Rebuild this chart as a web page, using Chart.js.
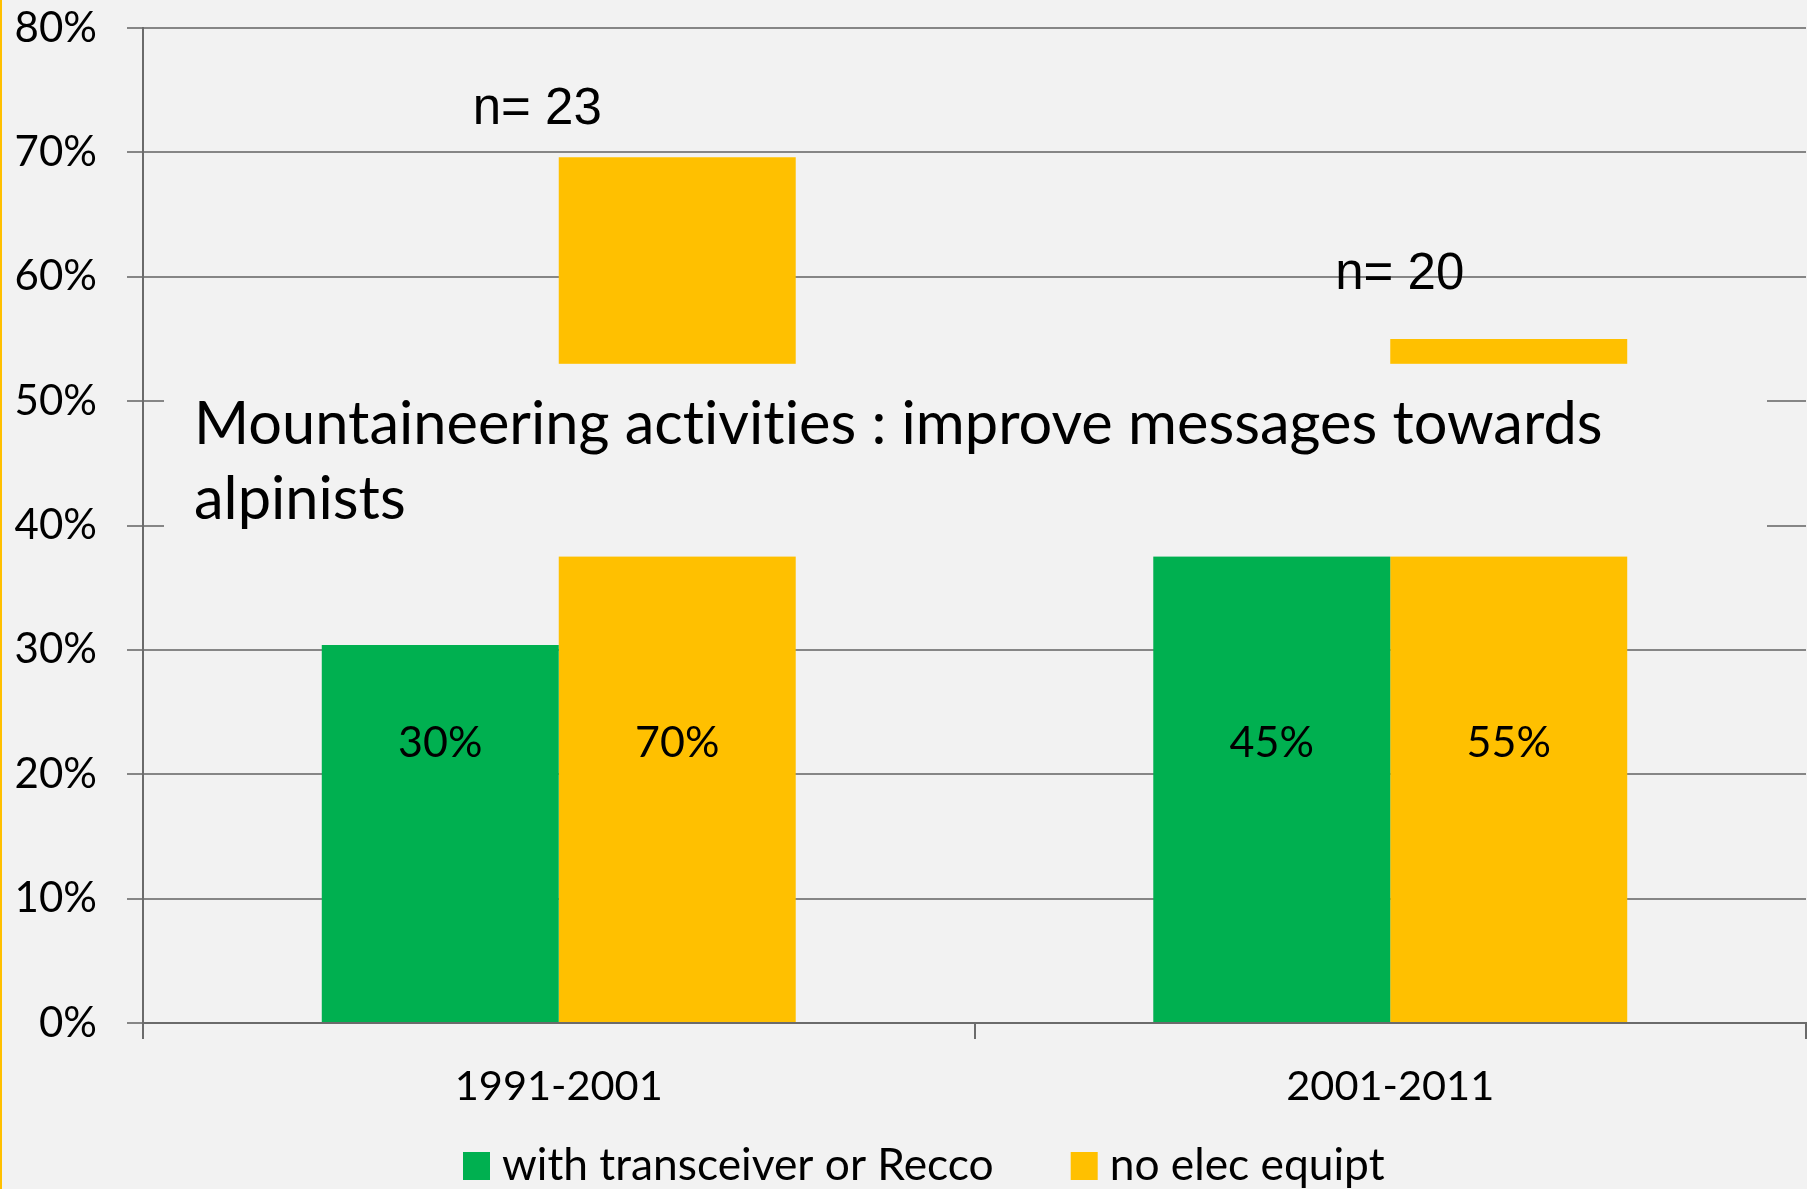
<!DOCTYPE html>
<html>
<head>
<meta charset="utf-8">
<script src="https://cdn.jsdelivr.net/npm/chart.js@4"></script>
<style>
html, body { margin: 0; padding: 0; background: #f2f2f2; }
#wrap { position: relative; width: 1807px; height: 1189px; }
</style>
</head>
<body>
<div id="wrap"><canvas id="chart"></canvas></div>
<script>
const categories = ['1991-2001', '2001-2011']
const withTransceiver = [30.4, 45]
const noElecEquipt = [69.6, 55]
const sampleSizes = [23, 20]
const titleLines = ['Mountaineering activities : improve messages towards', 'alpinists']

const GREEN = '#00b050'
const YELLOW = '#ffc000'
const BG = '#f2f2f2'
const GRID = '#868686'
const AXIS = '#6b6b6b'

// background, title box, value labels, n= labels and legend
const overlay = {
    id: 'overlay',
    beforeDraw(chart) {
        const c = chart.ctx
        c.save()
        c.fillStyle = BG
        c.fillRect(0, 0, chart.width, chart.height)
        c.fillStyle = YELLOW
        c.fillRect(0, 0, 2, chart.height)
        c.restore()
    },
    afterDatasetsDraw(chart) {
        const c = chart.ctx
        const x = chart.scales.x
        const y = chart.scales.y
        const area = chart.chartArea
        c.save()

        // the title text box sits over the middle of the bars
        const top = y.getPixelForValue(53)
        const bottom = y.getPixelForValue(37.5)
        c.fillStyle = BG
        c.fillRect(area.left + 21, top, area.width - 60, bottom - top)
        c.fillStyle = '#000'
        c.font = '59.5px Lato'
        c.letterSpacing = '0.01px' // no "ti" ligature
        c.textAlign = 'left'
        c.textBaseline = 'alphabetic'
        c.fillText(titleLines[0], area.left + 51, top + 80)
        c.fillText(titleLines[1], area.left + 51, top + 155)
        c.letterSpacing = '0px'

        // value labels
        c.font = '43px Lato'
        c.textAlign = 'center'
        c.textBaseline = 'middle'
        chart.data.datasets.forEach((ds, i) => {
            chart.getDatasetMeta(i).data.forEach((bar, j) => {
                c.fillText(Math.round(ds.data[j]) + '%', bar.x, y.getPixelForValue(22.5))
            })
        })

        // sample sizes
        const nPos = [
            { dx: -86, v: 72.3 },
            { dx: -55, v: 59 },
        ]
        c.font = '51px "Liberation Sans", Arial, sans-serif'
        c.textAlign = 'left'
        c.textBaseline = 'alphabetic'
        sampleSizes.forEach((n, j) => {
            c.fillText('n= ' + n, x.getPixelForValue(j) + nPos[j].dx, y.getPixelForValue(nPos[j].v))
        })
        c.restore()
    },
    afterDraw(chart) {
        const c = chart.ctx
        c.save()
        c.font = '44.3px Lato'
        c.textAlign = 'left'
        c.textBaseline = 'middle'
        let lx = 463
        const ly = 1166
        chart.data.datasets.forEach((ds) => {
            c.fillStyle = ds.backgroundColor
            c.fillRect(lx, ly - 14, 27, 28)
            c.fillStyle = '#000'
            c.fillText(ds.label, lx + 39, ly)
            lx += 39 + c.measureText(ds.label).width + 77
        })
        c.restore()
    },
}

const chart = new Chart(document.getElementById('chart').getContext('2d'), {
    type: 'bar',
    data: {
        labels: categories,
        datasets: [
            {
                label: 'with transceiver or Recco',
                data: withTransceiver,
                backgroundColor: GREEN,
                categoryPercentage: 0.57,
                barPercentage: 1,
            },
            {
                label: 'no elec equipt',
                data: noElecEquipt,
                backgroundColor: YELLOW,
                categoryPercentage: 0.57,
                barPercentage: 1,
            },
        ],
    },
    options: {
        responsive: true,
        maintainAspectRatio: false,
        animation: false,
        devicePixelRatio: 1,
        layout: {
            padding: { top: 28, right: 1, left: 0, bottom: 0 },
        },
        plugins: {
            legend: { display: false },
            tooltip: { enabled: false },
        },
        scales: {
            x: {
                grid: {
                    offset: true,
                    drawOnChartArea: false,
                    tickLength: 16,
                    color: AXIS,
                    lineWidth: 2,
                },
                border: { color: AXIS, width: 2 },
                ticks: {
                    color: '#000',
                    font: { family: 'Lato', size: 41.5 },
                    padding: 23,
                },
                afterFit(s) {
                    s.height = 166
                    s.paddingLeft = 0
                    s.paddingRight = 0
                },
            },
            y: {
                min: 0,
                max: 80,
                ticks: {
                    stepSize: 10,
                    callback: (v) => v + '%',
                    color: '#000',
                    font: { family: 'Lato', size: 42 },
                    padding: 30,
                },
                grid: { color: GRID, lineWidth: 2, tickLength: 16 },
                border: { color: AXIS, width: 2 },
                afterFit(s) {
                    s.width = 143
                    s.paddingTop = 0
                    s.paddingBottom = 0
                },
            },
        },
    },
    plugins: [overlay],
})
</script>
</body>
</html>
